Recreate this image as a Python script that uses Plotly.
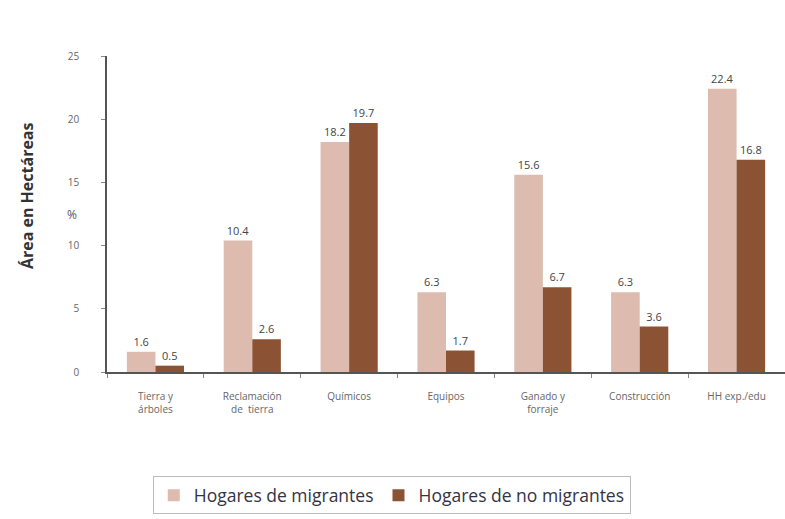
import plotly.graph_objects as go

categories = ["Tierra y<br>árboles", "Reclamación<br>de  tierra", "Químicos", "Equipos",
              "Ganado y<br>forraje", "Construcción", "HH exp./edu"]
migrantes = [1.6, 10.4, 18.2, 6.3, 15.6, 6.3, 22.4]
no_migrantes = [0.5, 2.6, 19.7, 1.7, 6.7, 3.6, 16.8]
y_ticks = [0, 5, 10, 15, 20, 25]

light = "#DDBBAE"
dark = "#8C5234"
font_family = "Open Sans, Noto Sans, sans-serif"

fig = go.Figure()
fig.add_trace(go.Bar(
    x=categories, y=migrantes, name="Hogares de migrantes",
    marker=dict(color=light, line=dict(width=0)),
    text=[f"{v:.1f}" for v in migrantes], textposition="outside",
    textfont=dict(size=11, color="#444444"), cliponaxis=False,
))
fig.add_trace(go.Bar(
    x=categories, y=no_migrantes, name="Hogares de no migrantes",
    marker=dict(color=dark, line=dict(width=0)),
    text=[f"{v:.1f}" for v in no_migrantes], textposition="outside",
    textfont=dict(size=11, color="#444444"), cliponaxis=False,
))

fig.update_layout(
    width=785, height=519,
    margin=dict(l=107, r=0, t=56, b=147),
    paper_bgcolor="white", plot_bgcolor="white",
    barmode="group", bargap=0.41, bargroupgap=0,
    font=dict(family=font_family, color="#555555"),
    showlegend=True,
    legend=dict(
        orientation="h", x=0.42, xanchor="center", y=-0.33, yanchor="top",
        bordercolor="#BBBBBB", borderwidth=1, bgcolor="white",
        font=dict(size=17.5, color="#333344"), itemwidth=30,
        tracegroupgap=0,
    ),
)

fig.update_xaxes(
    showline=True, linecolor="#555555", linewidth=1.5,
    ticks="outside", ticklen=4, tickcolor="#888888", tickson="boundaries",
    tickfont=dict(size=10, color="#666666"),
    showgrid=False, range=[-0.5, 6.5], ticklabelstandoff=14,
)
fig.update_yaxes(
    range=[0, 25], tickvals=y_ticks, showline=True, linecolor="#555555", linewidth=1.5,
    ticks="outside", ticklen=4, tickcolor="#888888",
    tickfont=dict(size=10, color="#666666"), showgrid=False, zeroline=False,
    ticklabelstandoff=20,
)

fig.add_annotation(
    text="<b>Área en Hectáreas</b>", xref="paper", yref="paper",
    x=-0.137, y=0.557, textangle=-90, showarrow=False,
    font=dict(size=16, color="#333333", family=font_family),
)
fig.add_annotation(
    text="%", xref="paper", yref="paper",
    x=-0.062, y=0.5, showarrow=False,
    font=dict(size=12, color="#555555", family=font_family),
)

fig.write_html("out.html")
